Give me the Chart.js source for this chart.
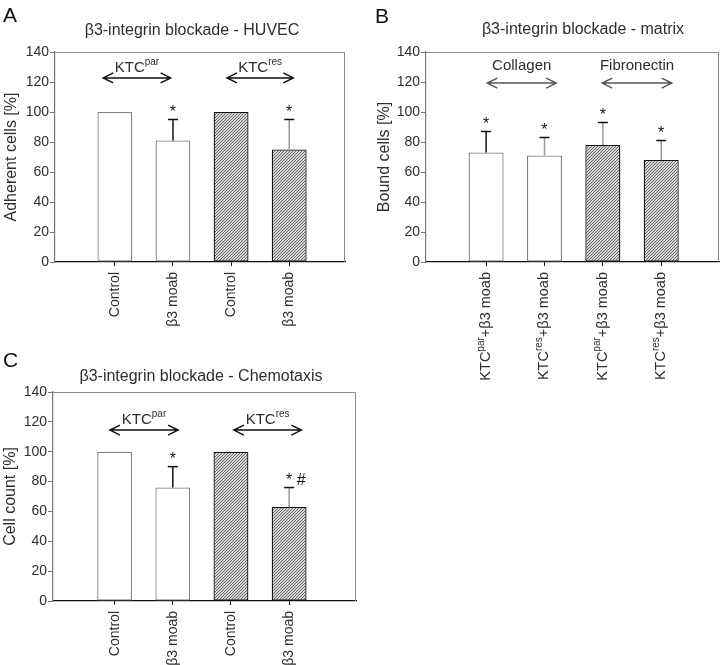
<!DOCTYPE html>
<html>
<head>
<meta charset="utf-8">
<script src="https://cdn.jsdelivr.net/npm/chart.js@4.4.1/dist/chart.umd.min.js"></script>
<style>
  body { margin: 0; background: #fff; width: 721px; height: 665px; position: relative; overflow: hidden; }
  canvas { position: absolute; }
  #a { left: 0; top: 0; }
  #b { left: 360px; top: 0; }
  #c { left: 0; top: 330px; }
</style>
</head>
<body>
<canvas id="a" width="360" height="330" style="width:360px;height:330px"></canvas>
<canvas id="b" width="361" height="400" style="width:361px;height:400px"></canvas>
<canvas id="c" width="360" height="335" style="width:360px;height:335px"></canvas>
<script>
// data
const xPos = [1, 2, 3, 4];
const yTicks = [0, 20, 40, 60, 80, 100, 120, 140];

const catsA = ["Control", "β3 moab", "Control", "β3 moab"];
const valsA = [100, 81, 100, 75];
const errA = [0, 14, 0, 20];
const starsA = ["", "*", "", "*"];
const groupsA = [["KTC", "par"], ["KTC", "res"]];

const catsB = [["KTC", "par", "+β3 moab"], ["KTC", "res", "+β3 moab"], ["KTC", "par", "+β3 moab"], ["KTC", "res", "+β3 moab"]];
const valsB = [73, 71, 78, 68];
const errB = [14, 12, 15, 13];
const starsB = ["*", "*", "*", "*"];
const groupsB = [["Collagen"], ["Fibronectin"]];

const catsC = ["Control", "β3 moab", "Control", "β3 moab"];
const valsC = [100, 76, 100, 63];
const errC = [0, 14, 0, 13];
const starsC = ["", "*", "", "* #"];
const groupsC = [["KTC", "par"], ["KTC", "res"]];

const FONT = '"Liberation Sans", Arial, sans-serif';
const TXT = "#2e2e2e";

function hatchFor(ctx) {
  const c = document.createElement("canvas");
  c.width = 3; c.height = 3;
  const g = c.getContext("2d");
  g.fillStyle = "#d6d6d6";
  g.fillRect(0, 0, 3, 3);
  g.strokeStyle = "#4a4a4a";
  g.lineWidth = 0.8;
  g.beginPath();
  g.moveTo(-1, 4); g.lineTo(4, -1);
  g.moveTo(-1, 1); g.lineTo(1, -1);
  g.moveTo(2, 4); g.lineTo(4, 2);
  g.stroke();
  return ctx.createPattern(c, "repeat");
}

// text with an optional superscript part: [base, sup, rest]
function supText(ctx, parts, x, y, size, align) {
  const big = size + "px " + FONT, small = Math.round(size * 0.68) + "px " + FONT;
  ctx.font = big;
  const w0 = ctx.measureText(parts[0]).width;
  const w2 = parts[2] ? ctx.measureText(parts[2]).width : 0;
  ctx.font = small;
  const w1 = parts[1] ? ctx.measureText(parts[1]).width : 0;
  const total = w0 + w1 + w2;
  let sx = align === "right" ? x - total : x - total / 2;
  ctx.textAlign = "left";
  ctx.font = big;
  ctx.fillText(parts[0], sx, y);
  if (parts[1]) {
    ctx.font = small;
    ctx.fillText(parts[1], sx + w0, y - size * 0.36);
  }
  if (parts[2]) {
    ctx.font = big;
    ctx.fillText(parts[2], sx + w0 + w1, y);
  }
}

function arrow(ctx, x0, x1, y, color) {
  ctx.strokeStyle = color;
  ctx.lineWidth = 1.5;
  ctx.beginPath();
  ctx.moveTo(x0, y); ctx.lineTo(x1, y);
  ctx.moveTo(x0 + 10, y - 5); ctx.lineTo(x0, y); ctx.lineTo(x0 + 10, y + 5);
  ctx.moveTo(x1 - 10, y - 5); ctx.lineTo(x1, y); ctx.lineTo(x1 - 10, y + 5);
  ctx.stroke();
}

const deco = {
  id: "deco",
  afterDraw(chart, args, o) {
    const ctx = chart.ctx, x = chart.scales.x, y = chart.scales.y, ca = chart.chartArea;
    ctx.save();
    // frame top / right
    ctx.strokeStyle = "#8a8a8a";
    ctx.lineWidth = 1;
    ctx.beginPath();
    ctx.moveTo(ca.left, ca.top + 0.5); ctx.lineTo(ca.right - 0.5, ca.top + 0.5); ctx.lineTo(ca.right - 0.5, ca.bottom);
    ctx.stroke();
    // error bars
    o.vals.forEach((v, i) => {
      const px = x.getPixelForValue(xPos[i]);
      if (o.err[i] > 0) {
        const top = y.getPixelForValue(v + o.err[i]);
        ctx.strokeStyle = o.errColors[i];
        ctx.lineWidth = 1.5;
        ctx.beginPath();
        ctx.moveTo(px, y.getPixelForValue(v)); ctx.lineTo(px, top);
        ctx.stroke();
        ctx.strokeStyle = "#111";
        ctx.beginPath();
        ctx.moveTo(px - 5, top); ctx.lineTo(px + 5, top);
        ctx.stroke();
      }
      if (o.stars[i]) {
        ctx.fillStyle = "#111";
        ctx.font = "16px " + FONT;
        ctx.textAlign = "left";
        const s = o.stars[i];
        const sy = y.getPixelForValue(v + o.err[i] + 8) + 9;
        const ws = ctx.measureText("*").width;
        ctx.fillText(s, px - ws / 2, sy);
      }
    });
    // group arrows
    o.groups.forEach((g, i) => {
      const sp = o.spans[i];
      const x0 = x.getPixelForValue(sp[0]), x1 = x.getPixelForValue(sp[1]);
      arrow(ctx, x0, x1, y.getPixelForValue(o.arrowY), o.arrowColor);
      ctx.fillStyle = TXT;
      ctx.textBaseline = "middle";
      supText(ctx, g, (x0 + x1) / 2, y.getPixelForValue(o.labelY), 15, "center");
      ctx.textBaseline = "alphabetic";
    });
    // rotated category labels with superscripts
    if (o.rotLabels) {
      o.rotLabels.forEach((parts, i) => {
        ctx.save();
        ctx.translate(x.getPixelForValue(xPos[i]), ca.bottom + 10);
        ctx.rotate(-Math.PI / 2);
        ctx.fillStyle = TXT;
        ctx.textBaseline = "middle";
        supText(ctx, parts, 0, 0, 14.5, "right");
        ctx.restore();
      });
    }
    // panel letter and title
    ctx.fillStyle = "#111";
    ctx.textAlign = "left";
    ctx.textBaseline = "alphabetic";
    ctx.font = "21px " + FONT;
    ctx.fillText(o.letter, o.letterX, o.letterY);
    ctx.fillStyle = TXT;
    ctx.textAlign = "center";
    ctx.textBaseline = "middle";
    ctx.font = "16px " + FONT;
    ctx.fillText(o.title, o.titleX, o.titleY);
    ctx.restore();
  }
};

function makeChart(id, p) {
  const ctx = document.getElementById(id).getContext("2d");
  const pat = hatchFor(ctx);
  return new Chart(ctx, {
    type: "bar",
    data: {
      datasets: [{
        data: xPos.map((v, i) => ({ x: v, y: p.vals[i] })),
        backgroundColor: ["#fff", "#fff", pat, pat],
        borderColor: ["#808080", "#808080", "#111", "#111"],
        borderWidth: 1.3,
        borderSkipped: false,
        barPercentage: 0.6,
        categoryPercentage: 1
      }]
    },
    options: {
      responsive: false,
      animation: false,
      layout: { padding: p.pad },
      plugins: {
        legend: { display: false },
        tooltip: { enabled: false },
        deco: p.deco
      },
      scales: {
        x: {
          type: "linear",
          min: p.xMin,
          max: p.xMax,
          offset: false,
          afterBuildTicks: s => { s.ticks = xPos.map(v => ({ value: v })); },
          afterFit: s => { s.height = p.xH; },
          border: { display: true, color: "#111", width: 1.2 },
          grid: { drawOnChartArea: false, drawTicks: true, tickLength: 4, color: "#111", offset: false },
          ticks: {
            autoSkip: false, minRotation: 90, maxRotation: 90, padding: 6,
            color: TXT, font: { family: FONT, size: 14 },
            callback: (v, i) => p.cats ? p.cats[i] : ""
          }
        },
        y: {
          min: 0,
          max: 140,
          afterBuildTicks: s => { s.ticks = yTicks.map(v => ({ value: v })); },
          afterFit: s => { s.width = p.yW; },
          border: { display: true, color: "#777", width: 1.2 },
          grid: { drawOnChartArea: false, drawTicks: true, tickLength: 5, color: "#777" },
          ticks: { color: TXT, padding: 1, font: { family: FONT, size: 14 } },
          title: {
            display: true, text: p.yTitle, color: TXT,
            font: { family: FONT, size: 16, lineHeight: 1.2 },
            padding: { top: p.yTitlePad, bottom: 0 }
          }
        }
      }
    },
    plugins: [deco]
  });
}

makeChart("a", {
  vals: valsA, cats: catsA, yTitle: "Adherent cells [%]", yTitlePad: 2.4,
  pad: { left: 0, top: 52, right: 15, bottom: 0 }, yW: 55, xH: 68, xMin: -0.03, xMax: 4.96,
  deco: {
    vals: valsA, err: errA, stars: starsA, errColors: ["#111", "#111", "#111", "#999"],
    groups: groupsA, spans: [[0.8, 1.96], [2.93, 4.07]], arrowY: 122.7, labelY: 129.5, arrowColor: "#111",
    letter: "A", letterX: 3, letterY: 22, title: "β3-integrin blockade - HUVEC", titleX: 192, titleY: 31
  }
});

makeChart("b", {
  vals: valsB, cats: null, yTitle: "Bound cells [%]", yTitlePad: 15.4,
  pad: { left: 0, top: 52, right: 2, bottom: 0 }, yW: 66, xH: 138, xMin: -0.03, xMax: 4.99,
  deco: {
    vals: valsB, err: errB, stars: starsB, errColors: ["#111", "#999", "#999", "#999"],
    groups: groupsB, spans: [[1.02, 2.2], [2.99, 4.18]], arrowY: 119.3, labelY: 131, arrowColor: "#555",
    rotLabels: catsB,
    letter: "B", letterX: 15, letterY: 23, title: "β3-integrin blockade - matrix", titleX: 223, titleY: 30
  }
});

makeChart("c", {
  vals: valsC, cats: catsC, yTitle: "Cell count [%]", yTitlePad: 1.4,
  pad: { left: 0, top: 62, right: 4, bottom: 0 }, yW: 53, xH: 64, xMin: -0.06, xMax: 5.15,
  deco: {
    vals: valsC, err: errC, stars: starsC, errColors: ["#111", "#111", "#111", "#999"],
    groups: groupsC, spans: [[0.92, 2.09], [3.05, 4.21]], arrowY: 114.5, labelY: 121.5, arrowColor: "#111",
    letter: "C", letterX: 3, letterY: 37, title: "β3-integrin blockade - Chemotaxis", titleX: 201, titleY: 47
  }
});
</script>
</body>
</html>
